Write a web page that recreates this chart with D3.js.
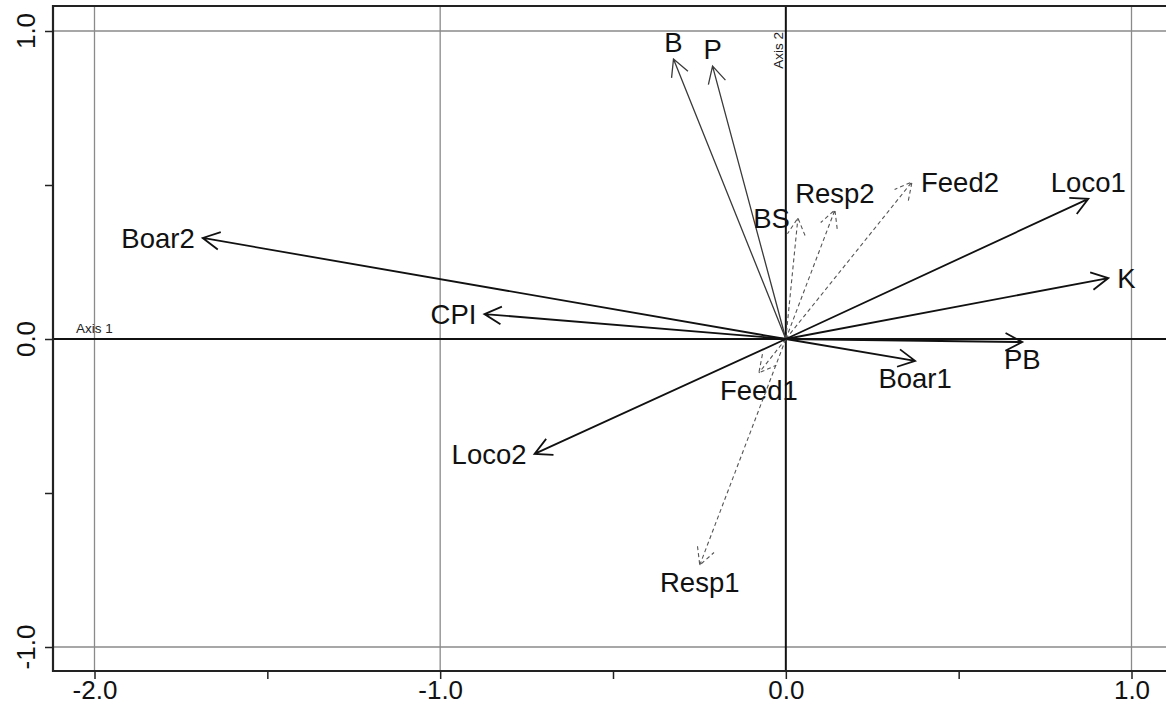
<!DOCTYPE html>
<html>
<head>
<meta charset="utf-8">
<script src="https://cdn.jsdelivr.net/npm/d3@7"></script>
<style>
  html, body { margin: 0; padding: 0; background: #fff; }
  svg { display: block; font-family: "Liberation Sans", Arial, sans-serif; }
</style>
</head>
<body>
<svg id="chart" width="1166" height="706"></svg>
<script>
// ---- data ----
const varNames = ["B", "P", "BS", "Resp2", "Feed2", "Loco1", "K", "PB", "Boar1", "Feed1", "Resp1", "Loco2", "CPI", "Boar2"];
const axis1 = [-0.325, -0.212, 0.035, 0.142, 0.365, 0.875, 0.933, 0.684, 0.374, -0.078, -0.249, -0.727, -0.872, -1.687];
const axis2 = [0.909, 0.886, 0.393, 0.419, 0.510, 0.455, 0.198, -0.010, -0.071, -0.110, -0.734, -0.373, 0.081, 0.328];
// variable kind: "main" (thin solid), "active" (solid), "supp" (dashed)
const varKind = ["main", "main", "supp", "supp", "supp", "active", "active", "active", "active", "supp", "supp", "active", "active", "active"];
const labelSide = ["above", "above", "left", "above", "right", "above", "right", "below", "below", "below", "below", "left", "left", "left"];
const xTicks = [-2.0, -1.5, -1.0, -0.5, 0.0, 0.5, 1.0];
const xTickLabels = ["-2.0", "", "-1.0", "", "0.0", "", "1.0"];
const yTicks = [-1.0, -0.5, 0.0, 0.5, 1.0];
const yTickLabels = ["-1.0", "", "0.0", "", "1.0"];
const gridX = [-2, -1, 1];
const gridY = [-1, 1];
const axisNames = ["Axis 1", "Axis 2"];

// ---- layout ----
const svg = d3.select("#chart");
const box = { left: 53, top: 6, bottom: 671, right: 1180 };
const x = d3.scaleLinear().domain([-2, 1]).range([94.5, 1131.5]);
const y = d3.scaleLinear().domain([-1, 1]).range([647, 31]);
const labelSize = 27.5, tickSize = 26;

const g = svg.append("g");

// grid lines
g.selectAll(".gx").data(gridX).enter().append("line")
  .attr("x1", d => x(d)).attr("x2", d => x(d))
  .attr("y1", box.top).attr("y2", box.bottom)
  .attr("stroke", "#8a8a8a").attr("stroke-width", 1.3);
g.selectAll(".gy").data(gridY).enter().append("line")
  .attr("x1", box.left).attr("x2", box.right)
  .attr("y1", d => y(d)).attr("y2", d => y(d))
  .attr("stroke", "#8a8a8a").attr("stroke-width", 1.3);

// zero axes
g.append("line").attr("x1", x(0)).attr("x2", x(0)).attr("y1", box.top).attr("y2", box.bottom)
  .attr("stroke", "#111").attr("stroke-width", 2);
g.append("line").attr("x1", box.left).attr("x2", box.right).attr("y1", y(0)).attr("y2", y(0))
  .attr("stroke", "#111").attr("stroke-width", 2);

// axis names
g.append("text").attr("x", 76).attr("y", 333).attr("font-size", 13.5).attr("fill", "#222")
  .text(axisNames[0]);
g.append("text").attr("transform", `translate(${x(0) - 3},${y(1) + 1}) rotate(-90)`)
  .attr("text-anchor", "end").attr("font-size", 13.5).attr("fill", "#222")
  .text(axisNames[1]);

// box
g.append("path")
  .attr("d", `M${box.right},${box.top}H${box.left}V${box.bottom}H${box.right}`)
  .attr("fill", "none").attr("stroke", "#222").attr("stroke-width", 2.2);

// x axis
const xAxis = d3.axisBottom(x).tickValues(xTicks).tickSize(8).tickSizeOuter(0)
  .tickFormat((d, i) => xTickLabels[i]);
const gx = svg.append("g").attr("transform", `translate(0,${box.bottom})`).call(xAxis);
gx.select(".domain").remove();
gx.selectAll(".tick line").attr("stroke", "#222").attr("stroke-width", 1.5);
gx.selectAll(".tick text").attr("font-size", tickSize).attr("font-family", "Liberation Sans, Arial, sans-serif")
  .attr("fill", "#111").attr("dy", null).attr("y", 28);

// y axis
const yAxis = d3.axisLeft(y).tickValues(yTicks).tickSize(8).tickSizeOuter(0)
  .tickFormat(() => "");
const gy = svg.append("g").attr("transform", `translate(${box.left},0)`).call(yAxis);
gy.select(".domain").remove();
gy.selectAll(".tick line").attr("stroke", "#222").attr("stroke-width", 1.5);
svg.selectAll(".ylab").data(yTicks.map((v, i) => ({ v, t: yTickLabels[i] })).filter(d => d.t))
  .enter().append("text")
  .attr("transform", d => `translate(${35},${y(d.v)}) rotate(-90)`)
  .attr("text-anchor", "middle").attr("font-size", tickSize).attr("fill", "#111")
  .text(d => d.t);

// arrows
const data = varNames.map((n, i) => ({ name: n, a1: axis1[i], a2: axis2[i], kind: varKind[i], side: labelSide[i] }));
const headLen = 19, headAng = Math.PI / 6.5;
const styles = {
  main: { stroke: "#3a3a3a", width: 1.3, dash: null },
  active: { stroke: "#111", width: 1.8, dash: null },
  supp: { stroke: "#555", width: 1.1, dash: "4,3" }
};
const ox = x(0), oy = y(0);
const arrows = svg.append("g");
data.forEach(d => {
  const tx = x(d.a1), ty = y(d.a2);
  const ang = Math.atan2(ty - oy, tx - ox);
  const b1x = tx - headLen * Math.cos(ang - headAng), b1y = ty - headLen * Math.sin(ang - headAng);
  const b2x = tx - headLen * Math.cos(ang + headAng), b2y = ty - headLen * Math.sin(ang + headAng);
  const st = styles[d.kind];
  arrows.append("path")
    .attr("d", `M${ox},${oy}L${tx},${ty}M${b1x},${b1y}L${tx},${ty}L${b2x},${b2y}`)
    .attr("fill", "none").attr("stroke", st.stroke).attr("stroke-width", st.width)
    .attr("stroke-dasharray", st.dash);
  let lx = tx, ly = ty, anchor = "middle";
  if (d.side === "above") { ly = ty - 17; }
  else if (d.side === "below") { ly = ty + 17; }
  else if (d.side === "left") { lx = tx - 8; anchor = "end"; }
  else if (d.side === "right") { lx = tx + 9; anchor = "start"; }
  arrows.append("text").attr("x", lx).attr("y", ly).attr("dy", "0.36em")
    .attr("text-anchor", anchor).attr("font-size", labelSize).attr("fill", "#111")
    .text(d.name);
});
</script>
</body>
</html>
